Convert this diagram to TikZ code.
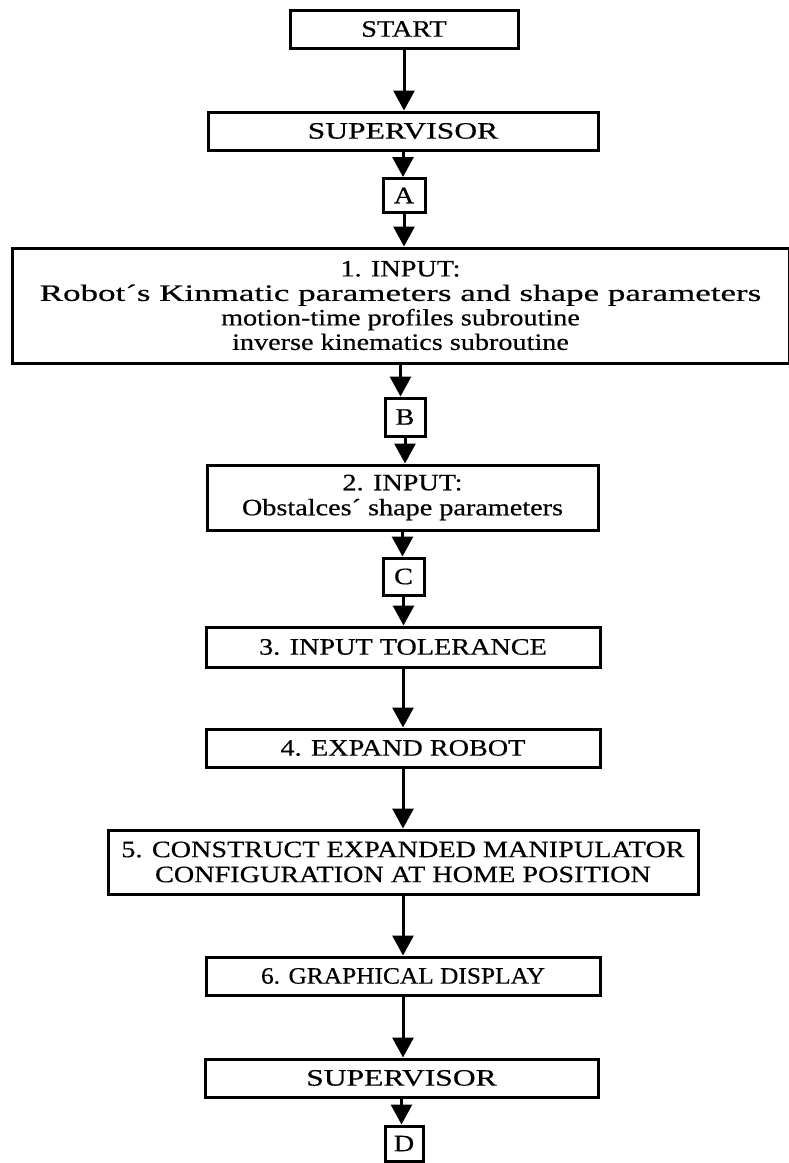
\documentclass[tikz,border=0pt]{standalone}
\usepackage{fontspec}
\setmainfont{Liberation Serif}[FakeStretch=1.2,FakeBold=0.5]
\usetikzlibrary{arrows.meta}
\newcommand{\widen}[2]{\scalebox{#1}[1]{#2}}
\begin{document}
\begin{tikzpicture}[x=1pt,y=-1pt,
  box/.style={draw, line width=3pt, inner sep=0pt, align=center,
    font=\fontsize{23.5}{25}\selectfont},
  conn/.style={draw, line width=3pt, inner sep=0pt,
    font=\fontsize{23.5}{25}\selectfont},
  flow/.style={line width=3pt, -{Triangle[width=21pt,length=20pt]}},
]
\useasboundingbox (0,0) rectangle (788,1163);

% program steps
\node[box, minimum width=228, minimum height=38] (start) at (404,29) {START};
\node[box, minimum width=390, minimum height=38] (sup1) at (403,131) {\widen{1.12}{SUPERVISOR}};
\node[conn, minimum width=42, minimum height=34] (A) at (404,195.5) {A};
\node[box, minimum width=777, minimum height=115,
      font=\fontsize{23.5}{24.5}\selectfont] (in1) at (400.5,305.5)
  {1. INPUT:\\ \widen{1.24}{Robot´s Kinmatic parameters and shape parameters}\\
   motion-time profiles subroutine\\ inverse kinematics subroutine};
\node[conn, minimum width=40, minimum height=38] (B) at (405,417) {B};
\node[box, minimum width=391, minimum height=65] (in2) at (402.5,497.5)
  {2. INPUT:\\ Obstalces´ shape parameters};
\node[conn, minimum width=41, minimum height=37] (C) at (403.5,576.5) {C};
\node[box, minimum width=394, minimum height=40] (tol) at (403,647) {3. INPUT TOLERANCE};
\node[box, minimum width=394, minimum height=38] (exp) at (403,748) {4. EXPAND ROBOT};
\node[box, minimum width=590, minimum height=64] (con) at (403,862)
  {5. CONSTRUCT EXPANDED MANIPULATOR\\ CONFIGURATION AT HOME POSITION};
\node[box, minimum width=394, minimum height=38] (gfx) at (403,976) {\widen{0.9}{6. GRAPHICAL DISPLAY}};
\node[box, minimum width=393, minimum height=38] (sup2) at (401.5,1078) {\widen{1.12}{SUPERVISOR}};
\node[conn, minimum width=38, minimum height=35] (D) at (404,1143.5) {D};

% flow of control
\foreach \a/\b in {start/sup1, sup1/A, A/in1, in1/B, B/in2, in2/C, C/tol,
                   tol/exp, exp/con, con/gfx, gfx/sup2, sup2/D}
  \draw[flow] (\a.south) -- (\a.south |- \b.north);
\end{tikzpicture}
\end{document}
